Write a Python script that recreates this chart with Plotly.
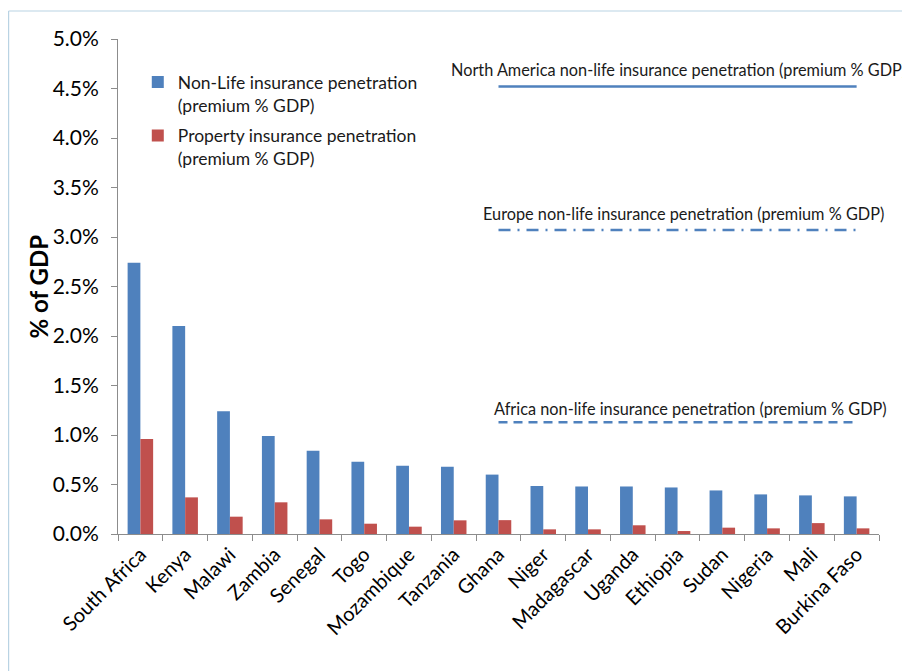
import plotly.graph_objects as go

countries = ["South Africa", "Kenya", "Malawi", "Zambia", "Senegal", "Togo", "Mozambique",
             "Tanzania", "Ghana", "Niger", "Madagascar", "Uganda", "Ethiopia", "Sudan",
             "Nigeria", "Mali", "Burkina Faso"]
non_life = [2.74, 2.10, 1.24, 0.99, 0.84, 0.73, 0.69, 0.68, 0.60, 0.485, 0.48, 0.48,
            0.47, 0.44, 0.40, 0.39, 0.38]
property_ins = [0.96, 0.37, 0.175, 0.32, 0.148, 0.104, 0.074, 0.138, 0.14, 0.047, 0.047,
                0.088, 0.03, 0.064, 0.057, 0.11, 0.057]

ref_countries = countries[8:]
north_america = 4.52
europe = 3.07
africa = 1.13

ref_labels = ["North America non-life insurance penetration (premium % GDP)",
              "Europe non-life insurance penetration (premium % GDP)",
              "Africa non-life insurance penetration (premium % GDP)"]

BLUE = "#4F81BD"
RED = "#C0504D"
FONT = "Lato"

# page is drawn with an 8px body margin; margins below compensate for it
ML, MT, PW, PH = 110, 31, 761, 495

fig = go.Figure()
fig.add_trace(go.Bar(x=countries, y=non_life, name="Non-Life insurance penetration<br>(premium % GDP)",
                     legendgroup="a", marker=dict(color=BLUE, line=dict(width=0))))
fig.add_trace(go.Bar(x=countries, y=property_ins, name="Property insurance penetration<br>(premium % GDP)",
                     legendgroup="b", marker=dict(color=RED, line=dict(width=0))))

fig.add_trace(go.Scatter(x=ref_countries, y=[north_america] * len(ref_countries), mode="lines",
                         line=dict(color=BLUE, width=2.5), showlegend=False, hoverinfo="skip"))
fig.add_trace(go.Scatter(x=ref_countries, y=[europe] * len(ref_countries), mode="lines",
                         line=dict(color=BLUE, width=2.5, dash="12px,7px,2px,7px"), showlegend=False,
                         hoverinfo="skip"))
fig.add_trace(go.Scatter(x=ref_countries, y=[africa] * len(ref_countries), mode="lines",
                         line=dict(color=BLUE, width=2.5, dash="9px,6px"), showlegend=False,
                         hoverinfo="skip"))

for lbl, val, xc, ys in [(ref_labels[0], north_america, 12.03, 17),
                         (ref_labels[1], europe, 12.13, 17),
                         (ref_labels[2], africa, 12.28, 14)]:
    fig.add_annotation(x=xc, y=val, text=lbl, showarrow=False, xref="x", yref="y",
                       yshift=ys, font=dict(family=FONT, size=16.3, color="#1a1a1a"))

fig.add_annotation(text="<b>% of GDP</b>", xref="paper", yref="paper", x=(30 - ML) / PW, y=0.5,
                   xanchor="center", yanchor="middle",
                   textangle=-90, showarrow=False, font=dict(family=FONT, size=24, color="black"))

# border frame
bx = (0.6 - ML) / PW
by = 1 + (MT - 3) / PH
fig.add_shape(type="line", xref="paper", yref="paper", x0=bx, x1=bx, y0=by, y1=-0.4,
              line=dict(color="#b9d3e3", width=1.2))
fig.add_shape(type="line", xref="paper", yref="paper", x0=bx, x1=1.1, y0=by, y1=by,
              line=dict(color="#b9d3e3", width=1.2))

fig.update_layout(
    width=910, height=671,
    margin=dict(l=ML, r=910 - ML - PW, t=MT, b=671 - MT - PH, autoexpand=False),
    paper_bgcolor="white", plot_bgcolor="white",
    barmode="group", bargap=0.43, bargroupgap=0,
    font=dict(family=FONT, color="black"),
    legend=dict(x=0.026, y=0.949, xanchor="left", yanchor="top", valign="top",
                font=dict(family=FONT, size=17.5, color="#1a1a1a"),
                bgcolor="rgba(0,0,0,0)", tracegroupgap=5, itemwidth=30),
    showlegend=True,
)
fig.update_xaxes(
    type="category", showline=True, linecolor="#8c8c8c", linewidth=1,
    ticks="outside", tickson="boundaries", ticklen=6, tickcolor="#8c8c8c",
    tickangle=-45, tickfont=dict(family=FONT, size=20, color="black"),
    showgrid=False, range=[-0.5, 16.5], automargin=False,
)
fig.update_yaxes(
    range=[0, 5], dtick=0.5, tickformat=".1f", ticksuffix="%",
    showline=True, linecolor="#8c8c8c", linewidth=1,
    ticks="outside", ticklen=6, tickcolor="#8c8c8c",
    tickfont=dict(family=FONT, size=21, color="black"), ticklabelstandoff=8,
    showgrid=False, zeroline=False, automargin=False,
)

fig.write_html("out.html")
